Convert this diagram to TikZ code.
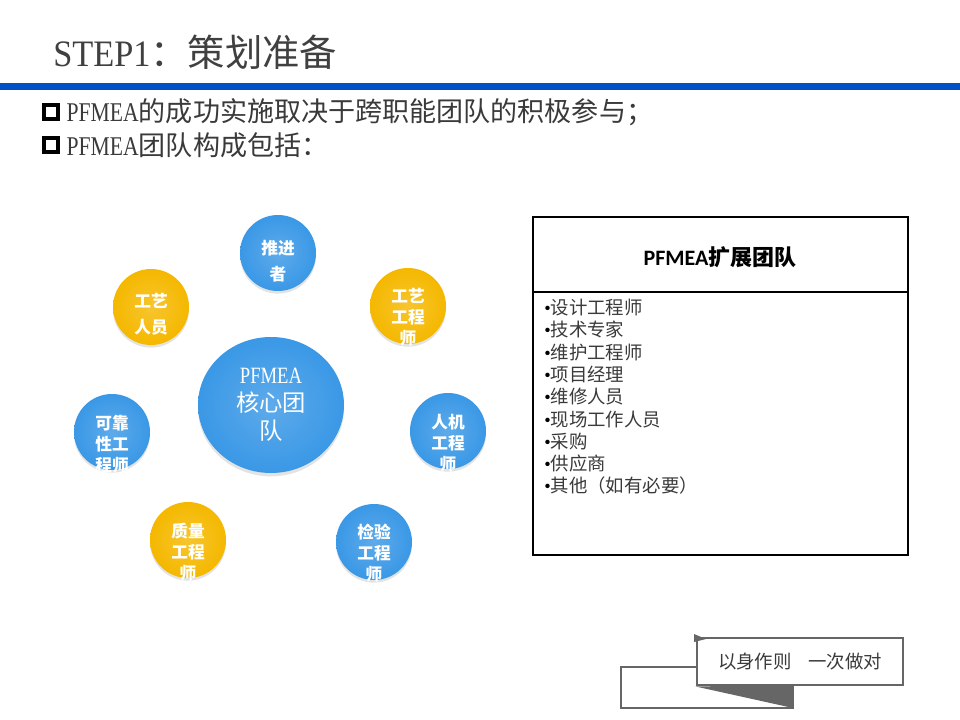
\documentclass[tikz,border=0pt]{standalone}
\usepackage{fontspec}
\usepackage{graphicx}
\setmainfont{Noto Sans CJK SC}
\newfontfamily\serifface{Liberation Serif}
\newfontfamily\calface{Carlito}
\usepackage{tikz}
\usetikzlibrary{positioning, calc, shapes.geometric, shadows}
\definecolor{title-gray}{HTML}{404040}
\definecolor{rule-blue}{HTML}{0050C8}
\definecolor{team-blue}{HTML}{3A98E6}
\definecolor{team-gold}{HTML}{F5B800}
\definecolor{text-dark}{HTML}{3A3A3A}
\definecolor{slogan-gray}{HTML}{666666}
\newcommand{\dotitem}{{\serifface\color{black}•}}
\newcommand{\narrowlatin}[1]{{\serifface\scalebox{0.8}[1]{#1}}}
\tikzset{
  check-box/.style={draw=black, line width=2.6pt, minimum size=10.5pt, inner sep=0},
  bullet-text/.style={font=\fontsize{20.3}{24}\selectfont, text=text-dark, inner sep=0},
  member-ball/.style={
    circle, minimum size=57pt, inner sep=0, shading=radial,
    inner color=#1!82!white, outer color=#1,
    drop shadow={opacity=0.22, shadow xshift=0pt, shadow yshift=-2pt}
  },
  member-text/.style={text=white, align=center, inner sep=0,
    font=\bfseries\fontsize{12.5}{16}\selectfont},
  core-ball/.style={
    ellipse, minimum width=109.5pt, minimum height=102pt, inner sep=0,
    shading=radial, inner color=team-blue!82!white, outer color=team-blue,
    drop shadow={opacity=0.22, shadow xshift=0pt, shadow yshift=-2.5pt}
  },
  core-text/.style={text=white, align=center, inner sep=0,
    font=\fontsize{17.5}{21}\selectfont},
  ext-frame/.style={draw=black, line width=0.8pt, minimum width=281.25pt,
    minimum height=253.5pt, inner sep=0},
  ext-list/.style={align=left, inner sep=0, text=text-dark,
    font=\fontsize{13.8}{16.7}\selectfont},
  slogan-box/.style={draw=slogan-gray, line width=2.2pt, fill=white,
    minimum width=154.5pt, minimum height=35.25pt, inner sep=0,
    text=text-dark, font=\fontsize{13.8}{16}\selectfont}
}

\begin{document}
\begin{tikzpicture}[x=0.75pt, y=-0.75pt]
  % Page frame
  \useasboundingbox (0,0) rectangle (960,720);
  \fill[white] (0,0) rectangle (960,720);

  % Title and rule
  \node[anchor=west, inner sep=0, text=title-gray, font=\fontsize{28}{32}\selectfont]
    (title) at (53,52) {{\serifface\scalebox{0.92}[1]{STEP1}}：策划准备};
  \fill[rule-blue] (0,83) rectangle (960,90);

  % Bullet lines
  \node[check-box] (box-one) at (51,112) {};
  \node[bullet-text, right=5pt of box-one] (line-one)
    {\narrowlatin{PFMEA}的成功实施取决于跨职能团队的积极参与；};
  \node[check-box] (box-two) at (51,145) {};
  \node[bullet-text, right=5pt of box-two] (line-two)
    {\narrowlatin{PFMEA}团队构成包括：};

  % Core team circles
  \node[core-ball] (core) at (271,405) {};
  \node[core-text] (core-t) at (core) {\narrowlatin{PFMEA}\\核心团\\队};

  \node[member-ball=team-blue] (tuijin) at (278,253) {};
  \node[member-text] (tuijin-t) at ($(tuijin)+(0,8)$) {推进\\[3.5pt]者};

  \node[member-ball=team-gold] (gongyi) at (151,307) {};
  \node[member-text] (gongyi-t) at ($(gongyi)+(0,7)$) {工艺\\[3.5pt]人员};

  \node[member-ball=team-gold] (gongcheng) at (408,306) {};
  \node[member-text] (gongcheng-t) at ($(gongcheng)+(0,11)$) {工艺\\工程\\师};

  \node[member-ball=team-blue] (kekao) at (112,432) {};
  \node[member-text] (kekao-t) at ($(kekao)+(0,12)$) {可靠\\性工\\程师};

  \node[member-ball=team-blue] (renji) at (448,431) {};
  \node[member-text] (renji-t) at ($(renji)+(0,12)$) {人机\\工程\\师};

  \node[member-ball=team-gold] (zhiliang) at (188,540) {};
  \node[member-text] (zhiliang-t) at ($(zhiliang)+(0,12)$) {质量\\工程\\师};

  \node[member-ball=team-blue] (jianyan) at (374,542) {};
  \node[member-text] (jianyan-t) at ($(jianyan)+(0,11)$) {检验\\工程\\师};

  % Extended team box
  \node[ext-frame] (ext-box) at (720.5,386) {};
  \coordinate (divider) at (0,292);
  \draw[line width=2.2pt] (ext-box.west |- divider) -- (ext-box.east |- divider);
  \node[inner sep=0, font=\bfseries\fontsize{16.5}{20}\selectfont] (ext-title)
    at (720,257) {{\calface PFMEA}扩展团队};
  \node[ext-list, anchor=north west] (ext-items) at (544,299)
    {\dotitem 设计工程师\\\dotitem 技术专家\\\dotitem 维护工程师\\
     \dotitem 项目经理\\\dotitem 维修人员\\\dotitem 现场工作人员\\
     \dotitem 采购\\\dotitem 供应商\\\dotitem 其他（如有必要）};

  % Slogan tab
  \draw[slogan-gray, line width=2.2pt] (621,667) rectangle (793,708);
  \node[slogan-box] (slogan) at (800,661.5) {以身作则\hspace{0.9em}一次做对};
  \fill[slogan-gray] (slogan.south west) -- (793,685) -- (793,708) -- cycle;
  \fill[slogan-gray] (694,634) -- (706,639) -- (694,642) -- cycle;
\end{tikzpicture}
\end{document}
